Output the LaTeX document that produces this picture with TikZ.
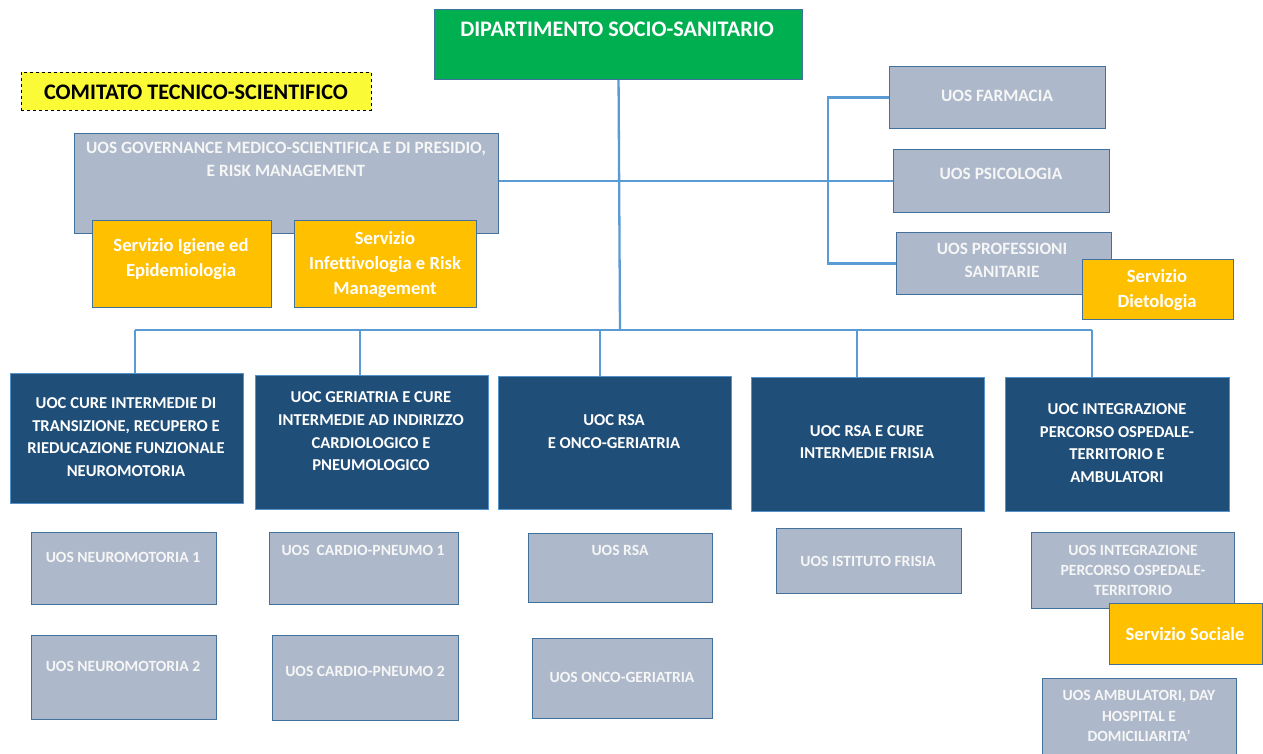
\documentclass[tikz,border=0pt]{standalone}
\usepackage{fontspec}
\setmainfont{Carlito}[Ligatures=CommonOff]
\definecolor{dipgreen}{HTML}{00B050}
\definecolor{bordc}{HTML}{41719C}
\definecolor{uosfill}{HTML}{ADB9CA}
\definecolor{uocfill}{HTML}{1F4E79}
\definecolor{servfill}{HTML}{FFC000}
\definecolor{comfill}{HTML}{FAFA37}
\definecolor{linec}{HTML}{5B9BD5}
\definecolor{uostext}{HTML}{F6F6F6}
\tikzset{
  box/.style={draw=bordc, line width=1.1pt, anchor=north west, inner sep=0pt},
  uos/.style={box, fill=uosfill},
  uoc/.style={box, fill=uocfill, draw=linec!80!bordc},
  serv/.style={box, fill=servfill},
  txtbig/.style={align=center, inner sep=0pt, font=\bfseries\fontsize{22.2}{26}\selectfont},
  txtmid/.style={align=center, inner sep=0pt, text=uostext, font=\bfseries\fontsize{17.3}{23}\selectfont},
  txtuoc/.style={align=center, inner sep=0pt, text=white, font=\bfseries\fontsize{16.6}{22.6}\selectfont},
  txtsml/.style={align=center, inner sep=0pt, text=uostext, font=\bfseries\fontsize{15.6}{20.3}\selectfont},
  txtserv/.style={align=center, inner sep=0pt, text=white, font=\bfseries\fontsize{18.6}{25}\selectfont},
  conn/.style={draw=linec, line width=2.3pt},
}
\begin{document}
\begin{tikzpicture}[x=1pt,y=-1pt]
\useasboundingbox (0,0) rectangle (1263,753);
\fill[white] (0,0) rectangle (1263,753);

\coordinate (bus) at (620,330);
\coordinate (d1) at (135,330);
\coordinate (d2) at (360,330);
\coordinate (d3) at (600,330);
\coordinate (d4) at (857,330);
\coordinate (d5) at (1092,330);
\coordinate (brk) at (828,180);

% top
\node[box, fill=dipgreen, minimum width=368, minimum height=70] (dip) at (434,9) {};
\node[txtbig, text=white] (dipT) at (617,29.5) {DIPARTIMENTO SOCIO-SANITARIO};

\node[box, fill=comfill, draw=black, dashed, line width=0.9pt, minimum width=350, minimum height=38] (com) at (21,72) {};
\node[txtbig, text=black] (comT) at (196,92) {COMITATO TECNICO-SCIENTIFICO};

% governance
\node[uos, minimum width=424, minimum height=100] (gov) at (74,133) {};
\node[txtmid] (govT) at (286,159.5) {UOS GOVERNANCE MEDICO-SCIENTIFICA E DI PRESIDIO,\\E RISK MANAGEMENT};
\node[serv, minimum width=179, minimum height=87] (igi) at (92,220) {};
\node[txtserv] (igiT) at (181,259) {Servizio Igiene ed\\Epidemiologia};
\node[serv, minimum width=182, minimum height=87] (inf) at (294,220) {};
\node[txtserv] (infT) at (385,265) {Servizio\\Infettivologia e Risk\\Management};

% right column
\node[uos, minimum width=216, minimum height=62] (farm) at (889,66) {};
\node[txtmid] (farmT) at (997,96) {UOS FARMACIA};
\node[uos, minimum width=216, minimum height=63] (psi) at (893,149) {};
\node[txtmid] (psiT) at (1001,174) {UOS PSICOLOGIA};
\node[uos, minimum width=215, minimum height=62] (prof) at (896,232) {};
\node[txtmid] (profT) at (1002,260) {UOS PROFESSIONI\\SANITARIE};
\node[serv, minimum width=151, minimum height=60] (diet) at (1082,259) {};
\node[txtserv] (dietT) at (1157,290.5) {Servizio\\Dietologia};

% UOC row
\node[uoc, minimum width=233, minimum height=130] (uoc1) at (10,373) {};
\node[txtuoc] (uoc1T) at (126,437) {UOC CURE INTERMEDIE DI\\TRANSIZIONE, RECUPERO E\\RIEDUCAZIONE FUNZIONALE\\NEUROMOTORIA};
\node[uoc, minimum width=233, minimum height=134] (uoc2) at (255,375) {};
\node[txtuoc] (uoc2T) at (371,431.5) {UOC GERIATRIA E CURE\\INTERMEDIE AD INDIRIZZO\\CARDIOLOGICO E\\PNEUMOLOGICO};
\node[uoc, minimum width=233, minimum height=133] (uoc3) at (498,376) {};
\node[txtuoc] (uoc3T) at (614,431.5) {UOC RSA\\E ONCO-GERIATRIA};
\node[uoc, minimum width=233, minimum height=134] (uoc4) at (751,377) {};
\node[txtuoc] (uoc4T) at (867,442) {UOC RSA E CURE\\INTERMEDIE FRISIA};
\node[uoc, minimum width=224, minimum height=134] (uoc5) at (1005,377) {};
\node[txtuoc] (uoc5T) at (1117,443) {UOC INTEGRAZIONE\\PERCORSO OSPEDALE-\\TERRITORIO E\\AMBULATORI};

% UOS bottom
\node[uos, minimum width=185, minimum height=72] (n1) at (31,532) {};
\node[txtsml] (n1T) at (123,557) {UOS NEUROMOTORIA 1};
\node[uos, minimum width=185, minimum height=84] (n2) at (31,635) {};
\node[txtsml] (n2T) at (123,666) {UOS NEUROMOTORIA 2};
\node[uos, minimum width=189, minimum height=72] (c1) at (269,532) {};
\node[txtsml] (c1T) at (363,550) {UOS\ \ CARDIO-PNEUMO 1};
\node[uos, minimum width=186, minimum height=85] (c2) at (272,635) {};
\node[txtsml] (c2T) at (365,671) {UOS CARDIO-PNEUMO 2};
\node[uos, minimum width=184, minimum height=69] (rsa) at (528,533) {};
\node[txtsml] (rsaT) at (620,550) {UOS RSA};
\node[uos, minimum width=180, minimum height=80] (onc) at (532,638) {};
\node[txtsml] (oncT) at (622,677) {UOS ONCO-GERIATRIA};
\node[uos, minimum width=185, minimum height=65] (fri) at (776,528) {};
\node[txtsml] (friT) at (868,561) {UOS ISTITUTO FRISIA};
\node[uos, minimum width=203, minimum height=76] (intg) at (1031,532) {};
\node[txtsml] (intgT) at (1133,570.5) {UOS INTEGRAZIONE\\PERCORSO OSPEDALE-\\TERRITORIO};
\node[serv, minimum width=153, minimum height=61] (soc) at (1109,603) {};
\node[txtserv] (socT) at (1185,634) {Servizio Sociale};
\node[uos, minimum width=194, minimum height=82] (amb) at (1042,678) {};
\node[txtsml] (ambT) at (1139,716) {UOS AMBULATORI, DAY\\HOSPITAL E\\DOMICILIARITA’};

% connectors
\draw[conn] (dip.south) -- (bus);
\draw[conn] (d1) -- (d5);
\draw[conn] (d1) -- (d1 |- uoc1.north);
\draw[conn] (d2) -- (d2 |- uoc2.north);
\draw[conn] (d3) -- (d3 |- uoc3.north);
\draw[conn] (d4) -- (d4 |- uoc4.north);
\draw[conn] (d5) -- (d5 |- uoc5.north);
\draw[conn] (gov.east |- psi.west) -- (psi.west);
\draw[conn] (farm.west) -| (brk) |- (prof.west);
\end{tikzpicture}
\end{document}
